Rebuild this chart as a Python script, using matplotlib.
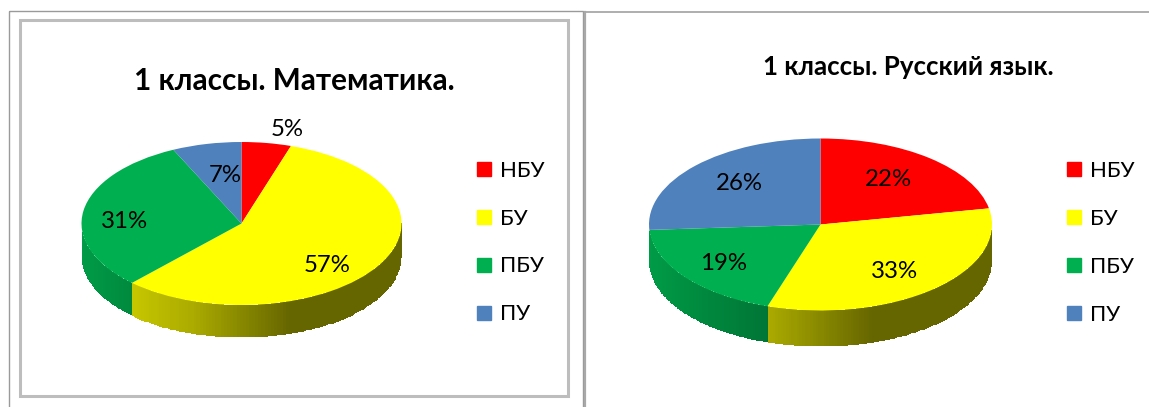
import numpy as np
import matplotlib
matplotlib.use("Agg")
import matplotlib.pyplot as plt
from matplotlib.colors import LinearSegmentedColormap
from matplotlib.lines import Line2D
from matplotlib.patches import Rectangle

W, H = 1149, 407
plt.rcParams['font.family'] = ['Lato', 'Open Sans', 'DejaVu Sans']

categories = ['НБУ', 'БУ', 'ПБУ', 'ПУ']
math_values = [5, 57, 31, 7]
russian_values = [22, 33, 19, 26]
colors = ['#FF0000', '#FFFF00', '#00B050', '#4F81BD']
math_title = '1 классы. Математика.'
russian_title = '1 классы. Русский язык.'

shade_u = [-1.0, -0.69, -0.31, 0.3, 1.0]
shade_f = [0.88, 0.78, 0.67, 0.40, 0.40]

fig = plt.figure(figsize=(W / 100, H / 100), dpi=100, facecolor='white')


def fx(x):
    return x / W


def fy(y):
    return 1 - y / H


def pie3d(values, cx, cy, rx, ry, depth, title, title_xy, title_size, label_xy, legend_xy, leg_size):
    ax = fig.add_axes([fx(cx - rx), fy(cy + ry + depth), 2 * rx / W, (2 * ry + depth) / H])
    wedges, _ = ax.pie(values, colors=colors, startangle=90, counterclock=False, radius=1)
    ax.set_aspect('auto')
    d = depth / ry
    ax.set_xlim(-1, 1)
    ax.set_ylim(-1 - d, 1)
    ax.patch.set_alpha(0)
    for w in wedges:
        w.set_zorder(3)
    # extruded side wall, visible on the lower half only
    start = 0.0
    total = sum(values)
    for v, c in zip(values, colors):
        end = start + v / total * 360
        a, b = max(start, 90), min(end, 270)
        if b > a:
            th = np.radians(np.linspace(a, b, 120))
            xs, ys = np.sin(th), np.cos(th)
            X = np.vstack([xs, xs])
            Y = np.vstack([ys, ys - d])
            xm = (xs[:-1] + xs[1:]) / 2
            C = np.interp(xm, shade_u, shade_f)[None, :]
            cmap = LinearSegmentedColormap.from_list('s', ['black', c])
            ax.pcolormesh(X, Y, C, cmap=cmap, vmin=0, vmax=1, shading='flat', zorder=2)
        start = end
    fig.text(fx(title_xy[0]), fy(title_xy[1]), title, fontsize=title_size, fontweight='bold',
             ha='center', va='center', color='black')
    for v, xy in zip(values, label_xy):
        fig.text(fx(xy[0]), fy(xy[1]), f'{v}%', fontsize=17.3, ha='center', va='center',
                 color='black', zorder=10)
    handles = [Line2D([], [], ls='', marker='s', ms=10.5, mfc=c, mec=c) for c in colors]
    fig.legend(handles, categories, loc='upper left', bbox_to_anchor=(fx(legend_xy[0]), fy(legend_xy[1])),
               frameon=False, fontsize=leg_size, labelspacing=1.26, handletextpad=0.16,
               borderpad=0, borderaxespad=0, handlelength=1.1)


overlay = fig.add_axes([0, 0, 1, 1], zorder=-1)
overlay.set_xlim(0, W)
overlay.set_ylim(H, 0)
overlay.axis('off')
overlay.add_patch(Rectangle((9, 11), 574, 420, fill=False, ec='#9a9a9a', lw=1.0))
overlay.add_patch(Rectangle((20, 20), 548, 376, fill=False, ec='#bdbdbd', lw=2.2))
overlay.plot([585, 585], [12, H], color='#a8a8a8', lw=1.6)
overlay.plot([585, W], [12, 12], color='#a8a8a8', lw=1.3)

pie3d(math_values, 241.5, 223.5, 160, 81.5, 32.5, math_title, (294, 81), 21.4,
      [(287, 129), (327, 266), (125, 221), (225, 176)],
      (472, 160.5), 16)
pie3d(russian_values, 820.5, 224.5, 171.5, 86, 36, russian_title, (908, 67), 18.6,
      [(888, 180), (895, 272), (724, 264), (739, 184)],
      (1062, 161), 16)

fig.savefig('out.png', dpi=100)
